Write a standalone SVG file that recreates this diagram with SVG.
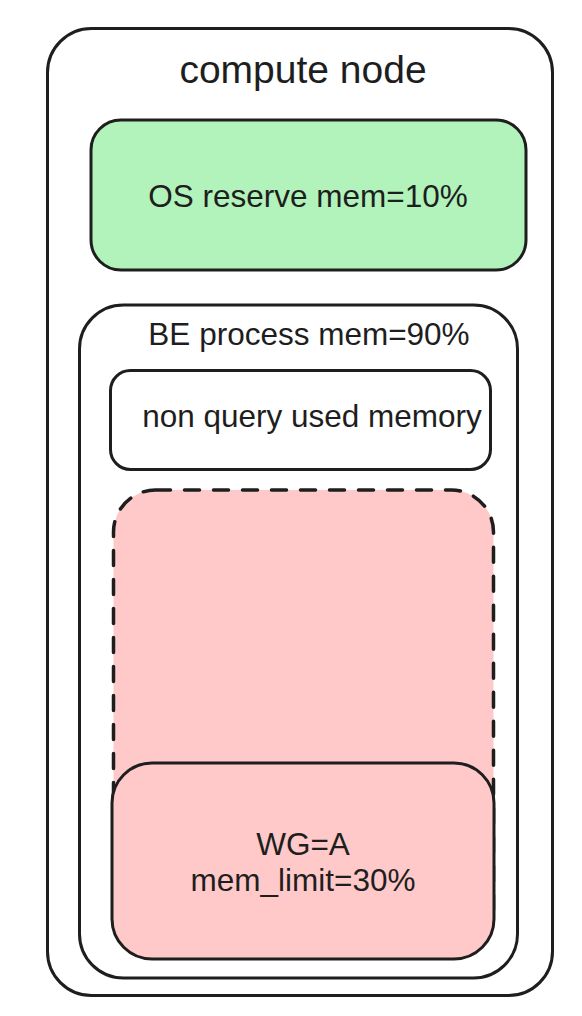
<svg xmlns="http://www.w3.org/2000/svg" width="582" height="1016" viewBox="0 0 582 1016">
<style>
.box{fill:none;stroke:#1e1e1e;stroke-width:3;stroke-linejoin:round}
.lbl{font-family:"Liberation Sans",Arial,Helvetica,sans-serif;fill:#1e1e1e;text-anchor:middle}
.t{font-size:31.5px}
</style>
<rect width="582" height="1016" fill="#ffffff"/>
<g id="compute-node">
<rect class="box" x="47.5" y="28.5" width="505" height="967" rx="44"/>
<text class="lbl" x="303" y="82.5" font-size="39">compute node</text>
</g>
<g id="os-reserve">
<rect class="box" x="91" y="120" width="435" height="150" rx="30" style="fill:#b2f2bb"/>
<text class="lbl t" x="308" y="206.5">OS reserve mem=10%</text>
</g>
<g id="be-process">
<rect class="box" x="79.5" y="305" width="438" height="673" rx="44"/>
<text class="lbl t" x="309" y="345">BE process mem=90%</text>
</g>
<g id="non-query">
<rect class="box" x="110.5" y="370.5" width="380" height="99" rx="20"/>
<text class="lbl t" x="312" y="426.5">non query used memory</text>
</g>
<g id="query-pool">
<rect x="113.5" y="490" width="380" height="460" rx="42" fill="#ffc9c9" stroke="#1e1e1e" stroke-width="3.5" stroke-dasharray="15 14" stroke-linecap="round"/>
</g>
<g id="wg-a">
<rect class="box" x="112" y="763" width="382" height="196" rx="40" style="fill:#ffc9c9"/>
<text class="lbl t" x="303" y="855">WG=A</text>
<text class="lbl t" x="303" y="890.5">mem_limit=30%</text>
</g>
<g id="connectors"/>
</svg>
